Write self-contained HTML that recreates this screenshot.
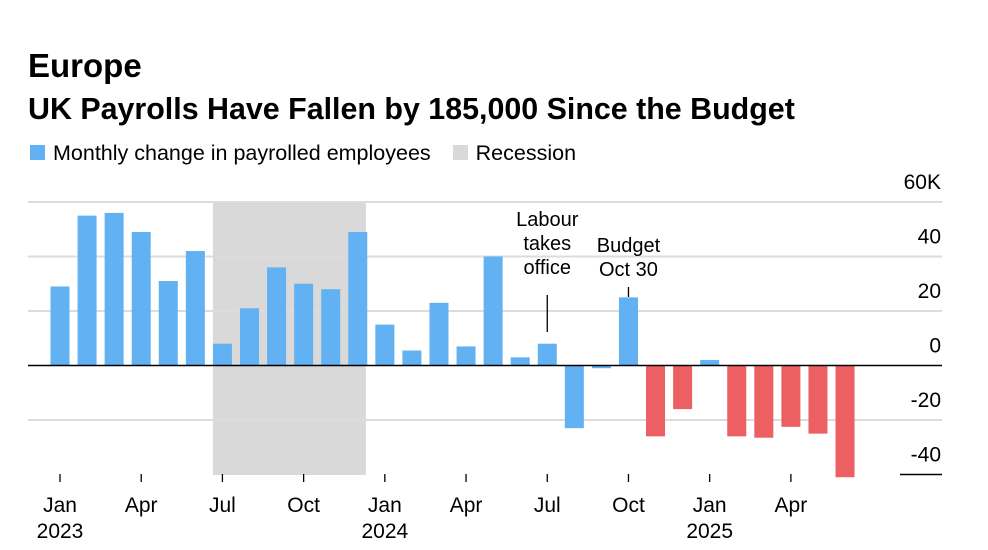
<!DOCTYPE html>
<html><head><meta charset="utf-8"><style>
body{margin:0;background:#fff;font-family:"Liberation Sans",Arial,sans-serif;}
#wrap{position:relative;width:988px;height:550px;overflow:hidden;}
</style></head><body>
<div id="wrap">
<div style="position:absolute;left:28px;top:47px;font-size:33px;font-weight:bold;color:#000;">Europe</div>
<div style="position:absolute;left:28px;top:92px;font-size:30.4px;font-weight:bold;color:#000;white-space:nowrap;">UK Payrolls Have Fallen by 185,000 Since the Budget</div>
<div style="position:absolute;left:30px;top:141px;font-size:21.5px;color:#000;white-space:nowrap;">
<span><span style="display:inline-block;width:15px;height:15px;background:#62b1f3;vertical-align:0px;margin-right:8px"></span>Monthly change in payrolled employees</span>
<span style="margin-left:16px"><span style="display:inline-block;width:15px;height:15px;background:#d9d9d9;vertical-align:0px;margin-right:8px"></span>Recession</span>
</div>
<svg id="chart" width="988" height="550" style="position:absolute;left:0;top:0"></svg>
</div>
<script>
const months=["Jan 2023","Feb 2023","Mar 2023","Apr 2023","May 2023","Jun 2023","Jul 2023","Aug 2023","Sep 2023","Oct 2023","Nov 2023","Dec 2023","Jan 2024","Feb 2024","Mar 2024","Apr 2024","May 2024","Jun 2024","Jul 2024","Aug 2024","Sep 2024","Oct 2024","Nov 2024","Dec 2024","Jan 2025","Feb 2025","Mar 2025","Apr 2025","May 2025","Jun 2025"];
const values=[29,55,56,49,31,42,8,21,36,30,28,49,15,5.5,23,7,40,3,8,-23,-1,25,-26,-16,2,-26,-26.5,-22.5,-25,-41];
const postBudget=[0,0,0,0,0,0,0,0,0,0,0,0,0,0,0,0,0,0,0,0,0,0,1,1,0,1,1,1,1,1];
const yTicks=[60,40,20,0,-20,-40];
const yTickLabels=["60K","40","20","0","-20","-40"];
const xTickIdx=[0,3,6,9,12,15,18,21,24,27];
const xTickLabels=["Jan","Apr","Jul","Oct","Jan","Apr","Jul","Oct","Jan","Apr"];
const yearIdx=[0,12,24];
const yearLabels=["2023","2024","2025"];
const recession=[5.65,11.3];

const svg=document.getElementById('chart');
const NS='http://www.w3.org/2000/svg';
const x=i=>60+i*27.07;
const y=v=>365.5-v*2.725;
function mk(tag,attrs){const e=document.createElementNS(NS,tag);for(const k in attrs)e.setAttribute(k,attrs[k]);svg.appendChild(e);return e;}

const rec=mk('rect',{x:x(recession[0]),y:y(60),width:x(recession[1])-x(recession[0]),height:y(-40)-y(60)+0.5,fill:'#d9d9d9'});



yTicks.forEach((t,i)=>{
  if(t!==0&&t!==-40){const g=mk('line',{x1:28,x2:942,y1:y(t),y2:y(t),stroke:'#dcdcdc','stroke-width':2});
  
  }
  const tx=mk('text',{x:941,y:y(t)-13,'text-anchor':'end','font-size':21,fill:'#000'});
  tx.textContent=yTickLabels[i];
  
  
});
const b40=mk('line',{x1:900,x2:942,y1:y(-40),y2:y(-40),stroke:'#000','stroke-width':1.5});



values.forEach((v,i)=>{
  const top=Math.min(y(v),y(0)),h=Math.abs(y(v)-y(0));
  const r=mk('rect',{x:x(i)-9.5,y:top,width:19,height:h,fill:postBudget[i]?'#ec5f62':'#62b1f3'});
  
  
});
const zl=mk('line',{x1:28,x2:942,y1:y(0),y2:y(0),stroke:'#000','stroke-width':1.5});



xTickIdx.forEach((idx,k)=>{
  const t=mk('line',{x1:x(idx),x2:x(idx),y1:474,y2:482,stroke:'#000','stroke-width':1.3});
  
  
  const l=mk('text',{x:x(idx),y:512,'text-anchor':'middle','font-size':21,fill:'#000'});
  l.textContent=xTickLabels[k];
  
  
});
yearIdx.forEach((idx,k)=>{
  const l=mk('text',{x:x(idx),y:538,'text-anchor':'middle','font-size':21,fill:'#000'});
  l.textContent=yearLabels[k];
  
  
});

function annot(idx,lines,ly1,ly2,ty,name){
  const ln=mk('line',{x1:x(idx),x2:x(idx),y1:ly1,y2:ly2,stroke:'#000','stroke-width':1.3});
  
  
  lines.forEach((s,j)=>{
    const t=mk('text',{x:x(idx),y:ty+j*24,'text-anchor':'middle','font-size':20,fill:'#000'});
    t.textContent=s;
    
    
  });
}
annot(18,["Labour","takes","office"],295,332,226,'labour-annotation');
annot(21,["Budget","Oct 30"],287,297,252,'budget-annotation');
</script>
</body></html>
